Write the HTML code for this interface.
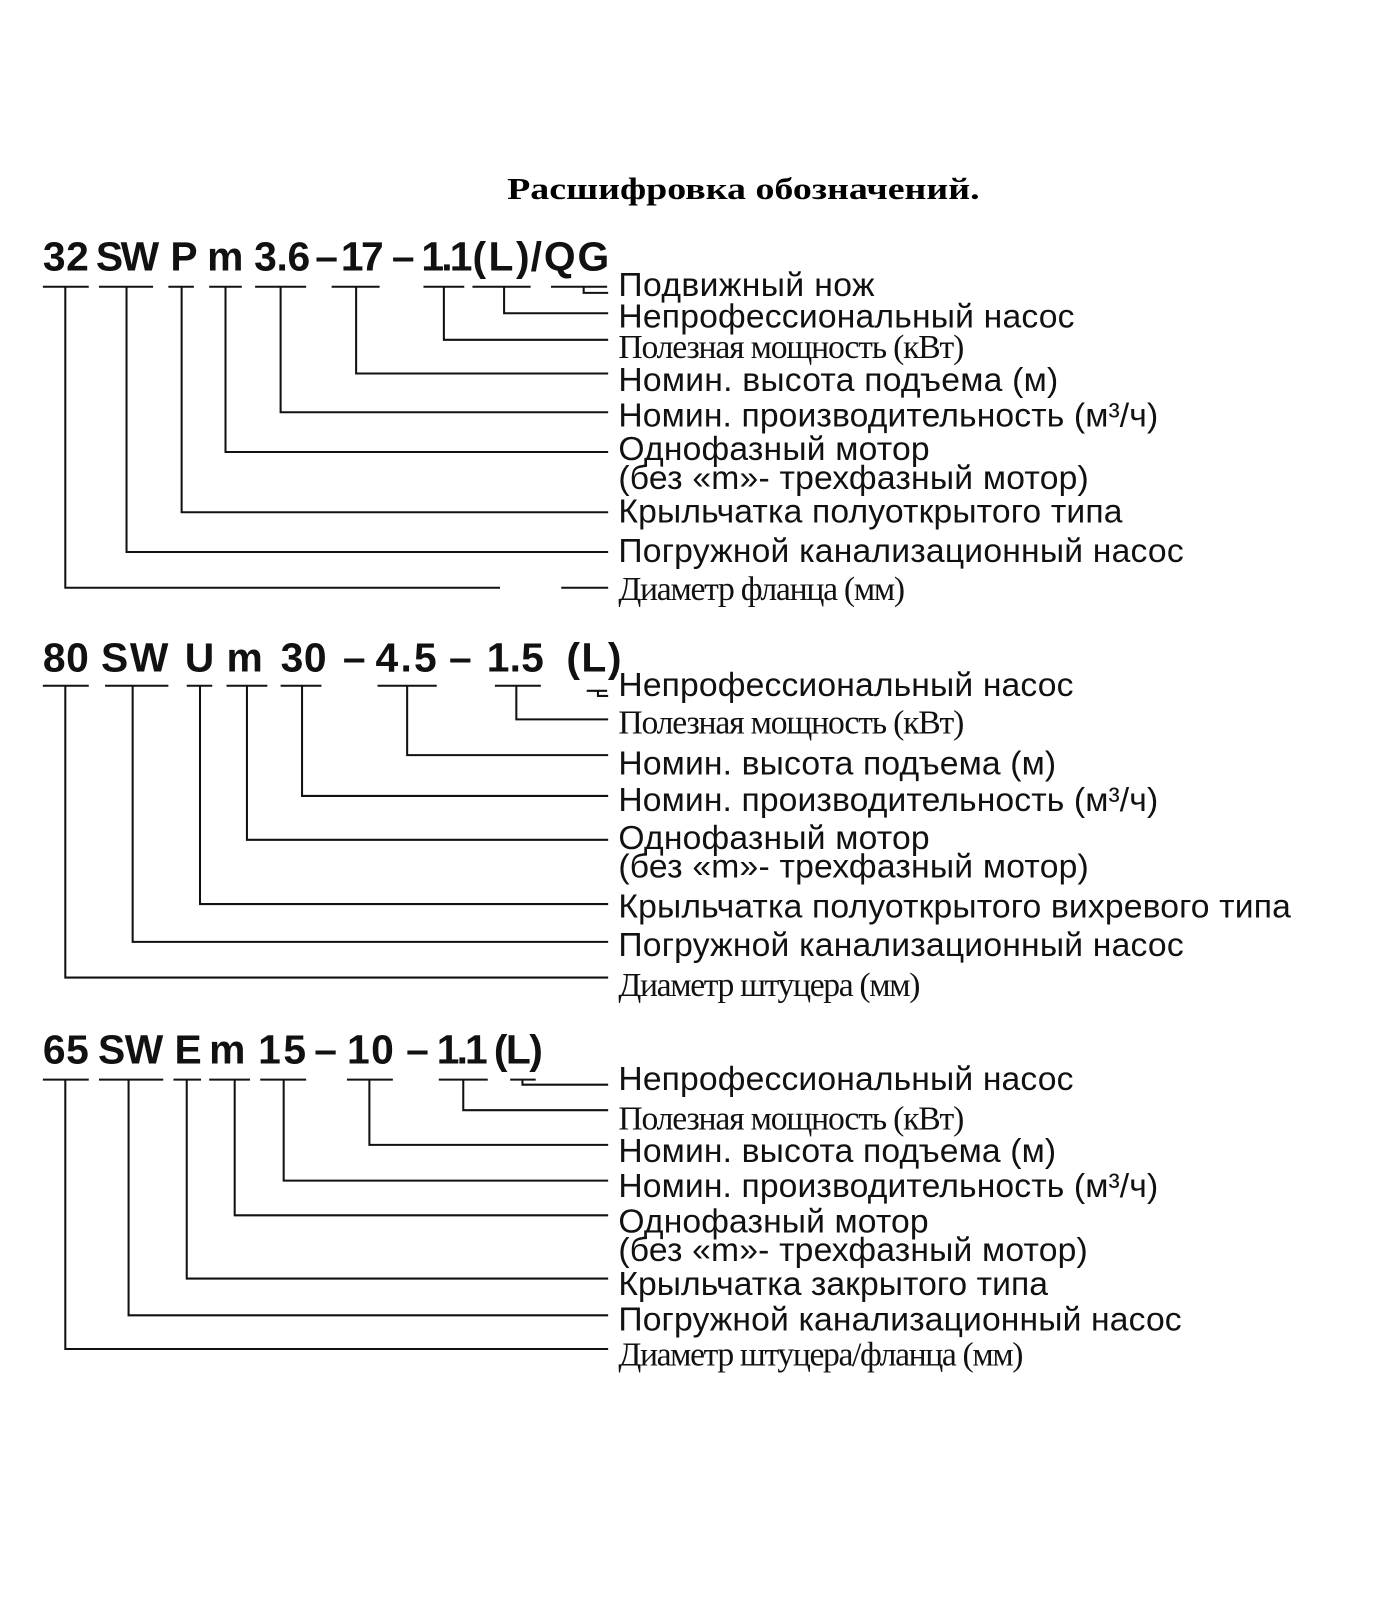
<!DOCTYPE html>
<html><head><meta charset="utf-8"><style>body{margin:0;background:#fff}svg{display:block}</style></head><body>
<svg width="1400" height="1600" viewBox="0 0 1372 1568" xmlns="http://www.w3.org/2000/svg">
<rect width="1372" height="1568" fill="#fff"/>
<text x="497" y="195" font-family="Liberation Serif, serif" font-weight="bold" font-size="30" textLength="463" lengthAdjust="spacingAndGlyphs">Расшифровка обозначений.</text>
<g font-family="Liberation Sans, sans-serif" font-weight="bold" font-size="40" fill="#111" lengthAdjust="spacingAndGlyphs">
<text x="42" y="265" textLength="45">32</text>
<text x="94" y="265" textLength="62">SW</text>
<text x="167" y="265" textLength="26">P</text>
<text x="203" y="265" textLength="36">m</text>
<text x="249" y="265" textLength="55">3.6</text>
<text x="309" y="265" textLength="18">–</text>
<text x="334" y="265" textLength="42">17</text>
<text x="384" y="265" textLength="18">–</text>
<text x="413" y="265" textLength="50">1.1</text>
<text x="463" y="265" textLength="56">(L)</text>
<text x="520" y="265" textLength="77">/QG</text>
<text x="42" y="658" textLength="45">80</text>
<text x="99" y="658" textLength="66">SW</text>
<text x="181" y="658" textLength="28">U</text>
<text x="222" y="658" textLength="40">m</text>
<text x="275" y="658" textLength="45">30</text>
<text x="336" y="658" textLength="18">–</text>
<text x="368" y="658" textLength="60">4.5</text>
<text x="440" y="658" textLength="18">–</text>
<text x="477" y="658" textLength="56">1.5</text>
<text x="555" y="658" textLength="54">(L)</text>
<text x="42" y="1042" textLength="45">65</text>
<text x="96" y="1042" textLength="64">SW</text>
<text x="171" y="1042" textLength="26">E</text>
<text x="205" y="1042" textLength="40">m</text>
<text x="253" y="1042" textLength="47">15</text>
<text x="308" y="1042" textLength="18">–</text>
<text x="340" y="1042" textLength="46">10</text>
<text x="398" y="1042" textLength="18">–</text>
<text x="428" y="1042" textLength="50">1.1</text>
<text x="484" y="1042" textLength="48">(L)</text>
</g>
<g stroke="#111" stroke-width="2" fill="none">
<path d="M42 281H87M97 281H150M165 281H190M205 281H237M250 281H300M325 281H372M415 281H455M463 281H520M540 281H595"/>
<path d="M64 281V576H490M550 576H596"/>
<path d="M124 281V541H596M178 281V502H596M221 281V443H596M275 281V404H596M349 281V366H596M435 281V333H596M494 281V307H596M572 281V287H596"/>
<path d="M42 672H87M103 672H165M183 672H208M222 672H262M275 672H315M370 672H428M485 672H530M575 677H595"/>
<path d="M64 672V958H596M130 672V923H596M196 672V886H596M242 672V823H596M296 672V780H596M399 672V740H596M506 672V705H596M586 677V682H596"/>
<path d="M42 1058H87M97 1058H160M170 1058H197M205 1058H245M255 1058H300M340 1058H385M430 1058H478M500 1058H525"/>
<path d="M64 1058V1322H596M126 1058V1289H596M183 1058V1253H596M230 1058V1191H596M278 1058V1157H596M362 1058V1122H596M454 1058V1088H596M512 1058V1063H596"/>
</g>
<g font-family="Liberation Sans, sans-serif" font-size="33" fill="#111" lengthAdjust="spacingAndGlyphs">
<text x="606" y="290" textLength="251">Подвижный нож</text>
<text x="606" y="321" textLength="447">Непрофессиональный насос</text>
<text x="606" y="383" textLength="431">Номин. высота подъема (м)</text>
<text x="606" y="418" textLength="529">Номин. производительность (м³/ч)</text>
<text x="606" y="451" textLength="305">Однофазный мотор</text>
<text x="606" y="479" textLength="461">(без «m»- трехфазный мотор)</text>
<text x="606" y="512" textLength="494">Крыльчатка полуоткрытого типа</text>
<text x="606" y="551" textLength="554">Погружной канализационный насос</text>
<text x="606" y="682" textLength="446">Непрофессиональный насос</text>
<text x="606" y="759" textLength="429">Номин. высота подъема (м)</text>
<text x="606" y="795" textLength="529">Номин. производительность (м³/ч)</text>
<text x="606" y="832" textLength="305">Однофазный мотор</text>
<text x="606" y="860" textLength="461">(без «m»- трехфазный мотор)</text>
<text x="606" y="899" textLength="659">Крыльчатка полуоткрытого вихревого типа</text>
<text x="606" y="937" textLength="554">Погружной канализационный насос</text>
<text x="606" y="1068" textLength="446">Непрофессиональный насос</text>
<text x="606" y="1139" textLength="429">Номин. высота подъема (м)</text>
<text x="606" y="1173" textLength="529">Номин. производительность (м³/ч)</text>
<text x="606" y="1208" textLength="304">Однофазный мотор</text>
<text x="606" y="1236" textLength="460">(без «m»- трехфазный мотор)</text>
<text x="606" y="1269" textLength="421">Крыльчатка закрытого типа</text>
<text x="606" y="1304" textLength="552">Погружной канализационный насос</text>
</g>
<g font-family="Liberation Serif, serif" font-size="33" fill="#111" lengthAdjust="spacingAndGlyphs">
<text x="606" y="351" textLength="339">Полезная мощность (кВт)</text>
<text x="606" y="588" textLength="281">Диаметр фланца (мм)</text>
<text x="606" y="719" textLength="339">Полезная мощность (кВт)</text>
<text x="606" y="976" textLength="296">Диаметр штуцера (мм)</text>
<text x="606" y="1107" textLength="339">Полезная мощность (кВт)</text>
<text x="606" y="1338" textLength="397">Диаметр штуцера/фланца (мм)</text>
</g>
</svg>
</body></html>
